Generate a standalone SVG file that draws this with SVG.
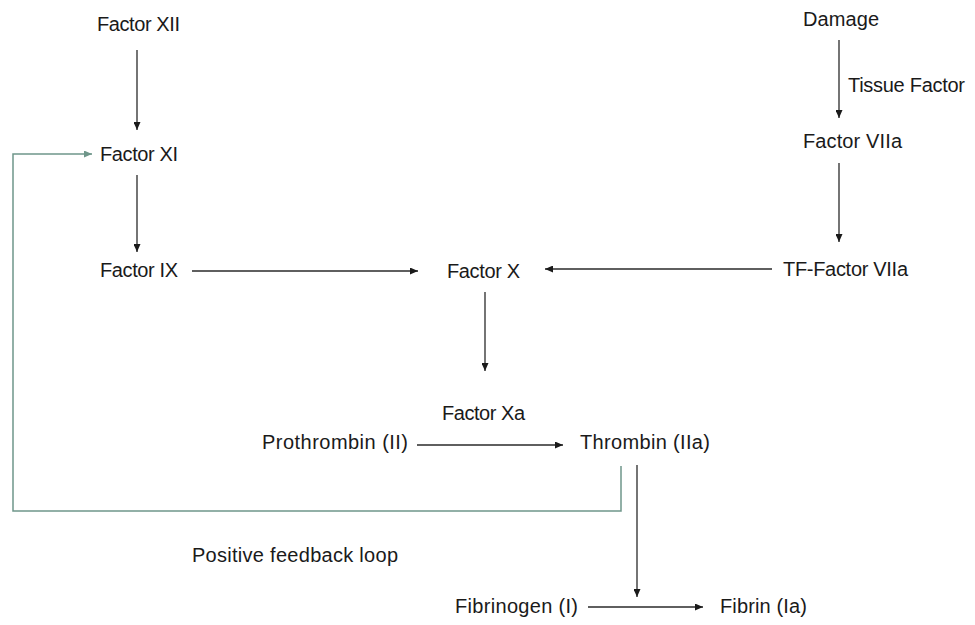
<svg xmlns="http://www.w3.org/2000/svg" width="975" height="625" viewBox="0 0 975 625">
  <style>
    text { font-family: "Liberation Sans", Arial, sans-serif; font-size: 20px; fill: #1a1a1a; }
    .conn { stroke: #2a2a2a; stroke-width: 1.3; fill: none; }
    .fb { stroke: #6f968a; stroke-width: 1.5; fill: none; }
  </style>
  <defs>
    <marker id="ah" viewBox="0 0 8 7" refX="8" refY="3.5" markerWidth="8" markerHeight="7" markerUnits="userSpaceOnUse" orient="auto">
      <path d="M0,0 L8,3.5 L0,7 z" fill="#1a1a1a"/>
    </marker>
    <marker id="ahg" viewBox="0 0 8 7" refX="8" refY="3.5" markerWidth="8" markerHeight="7" markerUnits="userSpaceOnUse" orient="auto">
      <path d="M0,0 L8,3.5 L0,7 z" fill="#6f968a"/>
    </marker>
  </defs>
  <rect width="975" height="625" fill="#ffffff"/>

  <g id="connectors">
    <line class="conn" x1="137" y1="50" x2="137" y2="130" marker-end="url(#ah)"/>
    <line class="conn" x1="137" y1="175" x2="137" y2="252" marker-end="url(#ah)"/>
    <line class="conn" x1="192" y1="271" x2="418" y2="271" marker-end="url(#ah)"/>
    <line class="conn" x1="772" y1="269" x2="545" y2="269" marker-end="url(#ah)"/>
    <line class="conn" x1="485" y1="292" x2="485" y2="371" marker-end="url(#ah)"/>
    <line class="conn" x1="417" y1="445" x2="563" y2="445" marker-end="url(#ah)"/>
    <line class="conn" x1="839" y1="40" x2="839" y2="118" marker-end="url(#ah)"/>
    <line class="conn" x1="839" y1="163" x2="839" y2="242" marker-end="url(#ah)"/>
    <line class="conn" x1="637" y1="465" x2="637" y2="597" marker-end="url(#ah)"/>
    <line class="conn" x1="588" y1="607" x2="703" y2="607" marker-end="url(#ah)"/>
    <polyline class="fb" points="621,466 621,511 13,511 13,154 92,154" marker-end="url(#ahg)"/>
  </g>

  <g id="factor-xii"><text x="97" y="31" textLength="83">Factor XII</text></g>
  <g id="factor-xi"><text x="100" y="161" textLength="78">Factor XI</text></g>
  <g id="factor-ix"><text x="100" y="277" textLength="78">Factor IX</text></g>
  <g id="factor-x"><text x="447" y="278" textLength="73">Factor X</text></g>
  <g id="tf-factor-viia"><text x="783" y="276" textLength="125">TF-Factor VIIa</text></g>
  <g id="damage"><text x="803" y="26" textLength="76">Damage</text></g>
  <g id="tissue-factor"><text x="848" y="92" textLength="117">Tissue Factor</text></g>
  <g id="factor-viia"><text x="803" y="148" textLength="99">Factor VIIa</text></g>
  <g id="factor-xa"><text x="442" y="420" textLength="83">Factor Xa</text></g>
  <g id="prothrombin"><text x="262" y="449" textLength="146">Prothrombin (II)</text></g>
  <g id="thrombin"><text x="580" y="449" textLength="130">Thrombin (IIa)</text></g>
  <g id="feedback-label"><text x="192" y="562" textLength="206">Positive feedback loop</text></g>
  <g id="fibrinogen"><text x="455" y="613" textLength="123">Fibrinogen (I)</text></g>
  <g id="fibrin"><text x="720" y="613" textLength="87">Fibrin (Ia)</text></g>
</svg>
